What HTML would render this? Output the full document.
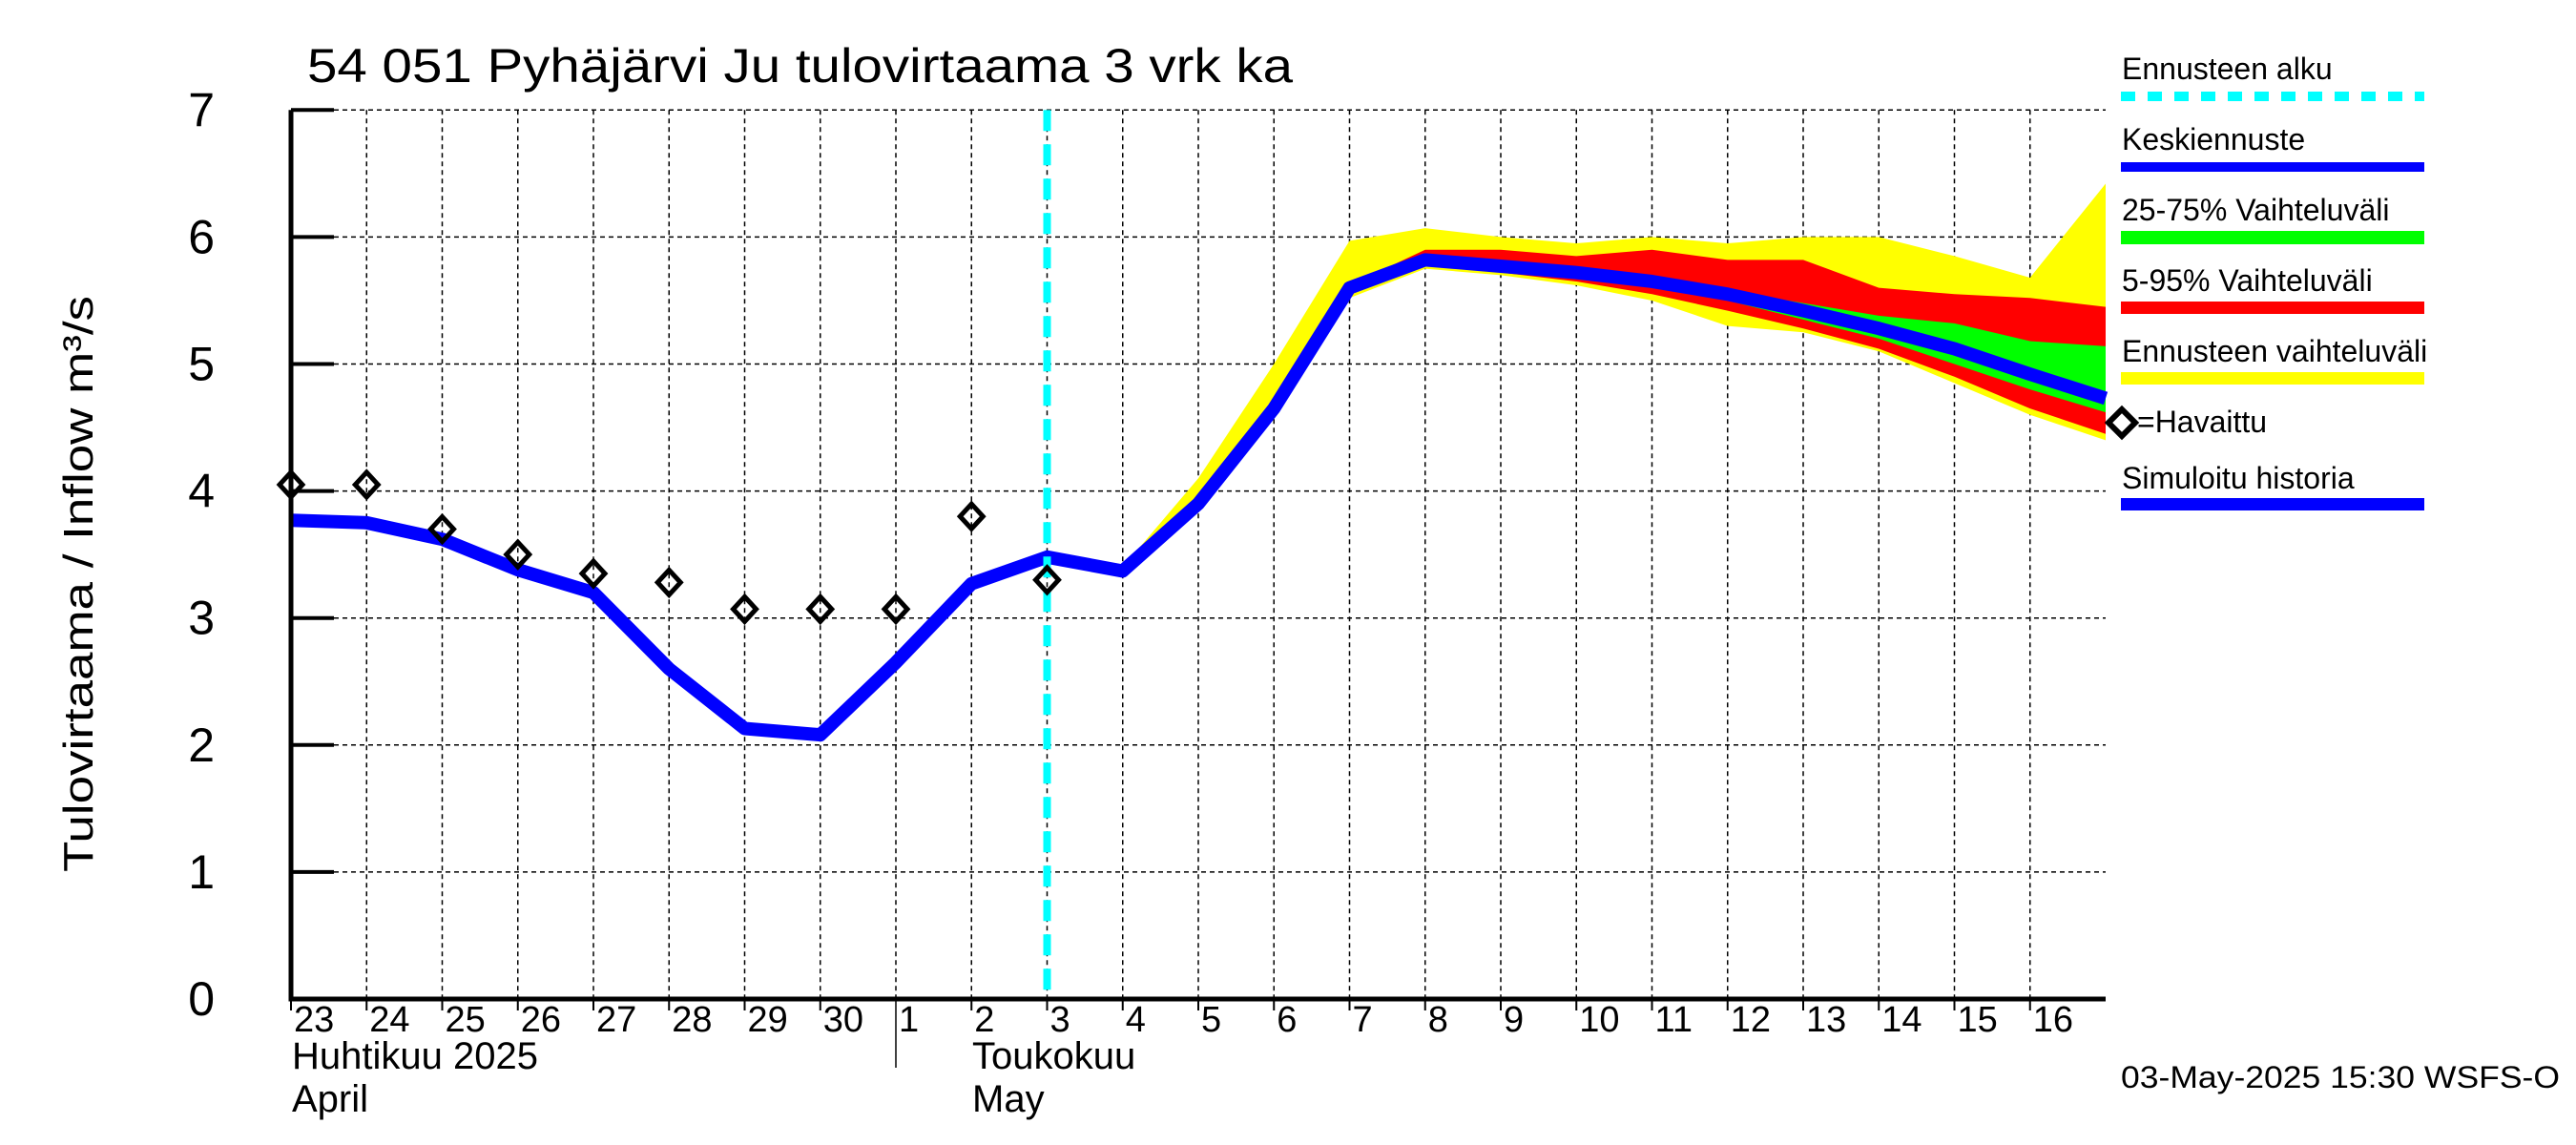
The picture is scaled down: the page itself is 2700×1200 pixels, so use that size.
<!DOCTYPE html>
<html><head><meta charset="utf-8"><style>html,body{margin:0;padding:0;background:#fff}svg{display:block}text{font-family:"Liberation Sans",sans-serif}</style></head>
<body>
<svg id="chart" width="2700" height="1200" viewBox="0 0 2700 1200" xmlns="http://www.w3.org/2000/svg">
<rect width="2700" height="1200" fill="#fff"/>
<g id="grid"></g>
<g id="bands"></g>
<g id="lines"></g>
<g id="axes"></g>
<text x="322" y="86" font-size="50" textLength="1033" lengthAdjust="spacingAndGlyphs">54 051 Pyhäjärvi Ju tulovirtaama 3 vrk ka</text>
<text transform="translate(97,612) rotate(-90)" text-anchor="middle" font-size="44" textLength="604" lengthAdjust="spacingAndGlyphs">Tulovirtaama / Inflow    m³/s</text>
<text x="306" y="1120" font-size="40">Huhtikuu  2025</text>
<text x="306" y="1165" font-size="40">April</text>
<text x="1019" y="1120" font-size="40">Toukokuu</text>
<text x="1019" y="1165" font-size="40">May</text>
<text x="2223" y="1140" font-size="32" textLength="460" lengthAdjust="spacingAndGlyphs">03-May-2025 15:30 WSFS-O</text>
<g>
<text x="2224" y="83" font-size="32">Ennusteen alku</text>
<line x1="2223" y1="101" x2="2541" y2="101" stroke="#00ffff" stroke-width="10" stroke-dasharray="15,13"/>
<text x="2224" y="157" font-size="32">Keskiennuste</text>
<rect x="2223" y="170" width="318" height="10" fill="#0000ff"/>
<text x="2224" y="231" font-size="32">25-75% Vaihteluväli</text>
<rect x="2223" y="242" width="318" height="14" fill="#00ff00"/>
<text x="2224" y="305" font-size="32">5-95% Vaihteluväli</text>
<rect x="2223" y="316" width="318" height="13" fill="#ff0000"/>
<text x="2224" y="379" font-size="32">Ennusteen vaihteluväli</text>
<rect x="2223" y="390" width="318" height="13" fill="#ffff00"/>
<path d="M2224 429 L2238 443 L2224 457 L2210 443 Z" fill="none" stroke="#000" stroke-width="6"/>
<text x="2240" y="453" font-size="32">=Havaittu</text>
<text x="2224" y="512" font-size="32">Simuloitu historia</text>
<rect x="2223" y="522" width="318" height="13" fill="#0000ff"/>
</g>
<script>
const dayLabels = ["23","24","25","26","27","28","29","30","1","2","3","4","5","6","7","8","9","10","11","12","13","14","15","16"];
const yTicks = [0,1,2,3,4,5,6,7];
const simValues = [3.77,3.75,3.62,3.38,3.2,2.6,2.13,2.08,2.65,3.27,3.48,3.37,3.9,4.65,5.6,5.82,5.77,5.72,5.65,5.55,5.42,5.28,5.12,4.92,4.73];
const obsDays = [0,1,2,3,4,5,6,7,8,9,10];
const obsValues = [4.05,4.05,3.7,3.5,3.35,3.28,3.07,3.07,3.07,3.8,3.3];
const bandStart = 10;
const yellowHi = [3.5,3.4,4.1,5.0,5.97,6.07,6.0,5.95,6.0,5.95,6.0,6.0,5.85,5.68,6.42];
const yellowLo = [3.48,3.37,3.9,4.65,5.52,5.75,5.7,5.62,5.5,5.3,5.25,5.1,4.85,4.6,4.4];
const redHi = [3.49,3.38,3.92,4.67,5.62,5.9,5.9,5.85,5.9,5.82,5.82,5.6,5.55,5.52,5.45];
const redLo = [3.48,3.37,3.9,4.65,5.55,5.77,5.72,5.65,5.55,5.42,5.28,5.12,4.9,4.65,4.45];
const greenHi = [3.49,3.38,3.91,4.66,5.61,5.84,5.79,5.75,5.68,5.58,5.48,5.38,5.32,5.18,5.14];
const greenLo = [3.48,3.37,3.9,4.65,5.59,5.8,5.75,5.7,5.62,5.5,5.35,5.2,5.0,4.8,4.62];
const forecastStartDay = 10;

const X0=305, DX=79.25, Y0=1047, DY=133.1;
const xs=d=>X0+d*DX, ys=v=>Y0-v*DY;
const NS="http://www.w3.org/2000/svg";
function mk(tag,parent,attrs){const e=document.createElementNS(NS,tag);for(const k in attrs)e.setAttribute(k,attrs[k]);parent.appendChild(e);return e;}
const grid=document.getElementById('grid'),bands=document.getElementById('bands'),lines=document.getElementById('lines'),axes=document.getElementById('axes');
const XR=xs(24);
yTicks.forEach(v=>{
  if(v>0){const l=mk('line',grid,{x1:X0,y1:ys(v),x2:XR,y2:ys(v),stroke:'#000','stroke-width':1.5,'stroke-dasharray':'5,4'});
  
  }
  const t=mk('line',axes,{x1:X0,y1:ys(v),x2:X0+45,y2:ys(v),stroke:'#000','stroke-width':4});
  
  
  const tx=mk('text',axes,{x:225,y:ys(v)+17,'font-size':50,'text-anchor':'end'});
  tx.textContent=v;
  
  
});
dayLabels.forEach((lab,i)=>{
  const x=xs(i);
  if(i>0){const g=mk('line',grid,{x1:x,y1:ys(7),x2:x,y2:Y0,stroke:'#000','stroke-width':1.5,'stroke-dasharray':'5,4'});
  
  }
  const tk=mk('line',axes,{x1:x,y1:Y0,x2:x,y2:lab==="1"?Y0+72:Y0+12,stroke:'#000','stroke-width':lab==="1"?1.5:2});
  
  
  const t=mk('text',axes,{x:x+3,y:Y0+34,'font-size':38});
  t.textContent=lab;
  
  
});
function band(hi,lo,color,name){
  let d='';hi.forEach((v,i)=>{d+=(i?'L':'M')+xs(bandStart+i)+' '+ys(v)+' ';});
  for(let i=lo.length-1;i>=0;i--)d+='L'+xs(bandStart+i)+' '+ys(lo[i])+' ';
  const p=mk('path',bands,{d:d+'Z',fill:color});
  
  
}
band(yellowHi,yellowLo,'#ffff00','band-forecast-range');
band(redHi,redLo,'#ff0000','band-5-95');
band(greenHi,greenLo,'#00ff00','band-25-75');
const pts=simValues.map((v,i)=>xs(i)+','+ys(v)).join(' ');
const pl=mk('polyline',lines,{points:pts,fill:'none',stroke:'#0000ff','stroke-width':14,'stroke-linejoin':'round'});


const fl=mk('line',lines,{x1:xs(forecastStartDay),y1:ys(7),x2:xs(forecastStartDay),y2:Y0,stroke:'#00ffff','stroke-width':8,'stroke-dasharray':'22,14'});


obsValues.forEach((v,i)=>{
  const x=xs(obsDays[i]),y=ys(v);
  const p=mk('path',lines,{d:`M${x} ${y-13} L${x+12} ${y} L${x} ${y+13} L${x-12} ${y} Z`,fill:'none',stroke:'#000','stroke-width':5});
  
  
});
const ax=mk('path',axes,{d:`M${X0} ${ys(7)} L${X0} ${Y0} L${XR} ${Y0}`,fill:'none',stroke:'#000','stroke-width':5});


</script>
</svg>
</body></html>
